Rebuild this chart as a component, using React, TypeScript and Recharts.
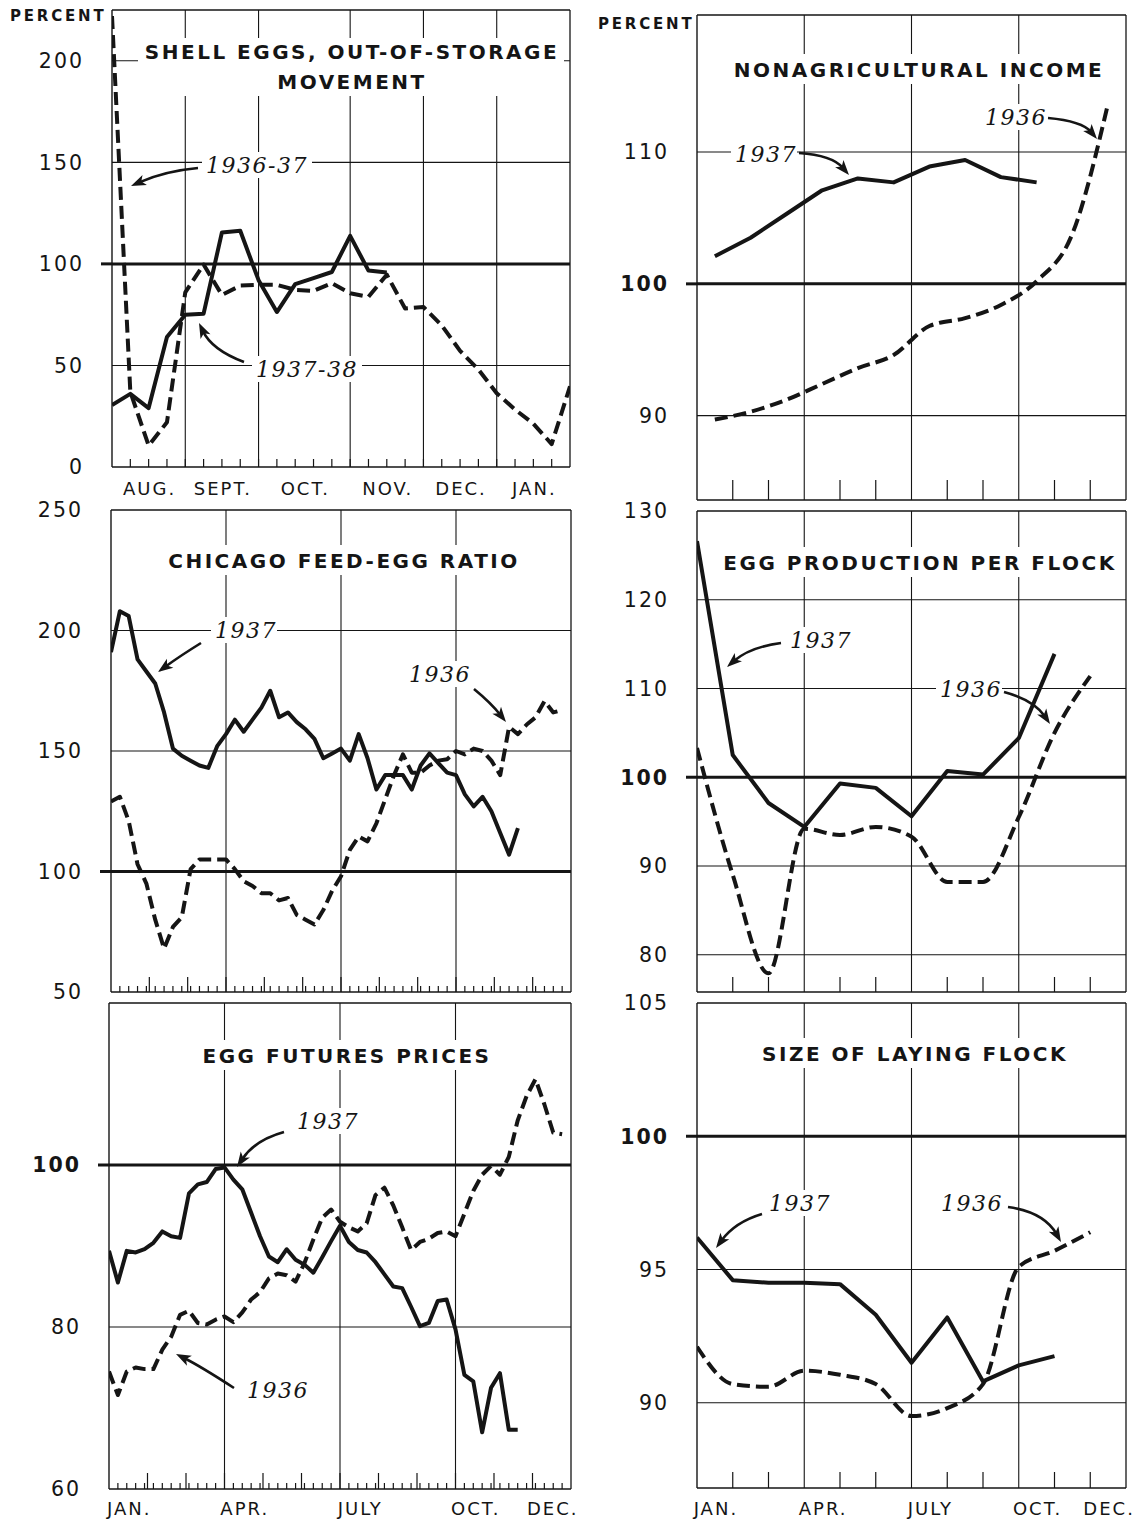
import React from 'react';
import { LineChart, Line, XAxis, YAxis, ReferenceLine } from 'recharts';

const INK = '#151515';
const SANS = '"DejaVu Sans", "Noto Sans", sans-serif';
const SERIF = '"DejaVu Serif", "Liberation Serif", serif';

// ---------- Panel 1: Shell eggs, out-of-storage movement (weekly, Aug - Jan) ----------
const storageMonthLabels = ['AUG.', 'SEPT.', 'OCT.', 'NOV.', 'DEC.', 'JAN.'];
const storageMonthCenters = [2, 6, 10.5, 15, 19, 23];
const storageMonthStarts = [4, 8, 13, 17, 21];
const storageTicks = [0, 50, 100, 150, 200];
const storage1936_37 = [222, 37, 10.5, 22, 86, 99.7, 84.7, 89.3, 89.7, 89.7, 87.2, 86.7, 90.5, 85.5, 83.8, 94.7, 78, 78.8, 69.7, 57.2, 48, 36.3, 28.3, 21.3, 11.3, 39.7];
const storage1937_38 = [30.5, 36, 29, 64, 75, 75.5, 115.5, 116.3, 92, 76.3, 90, 93, 96, 113.8, 96.7, 95.8];

// ---------- Panel 2: Nonagricultural income (monthly, mid-month) ----------
const incomeTicks = [90, 100, 110];
const income1937 = [102.1, 103.5, 105.3, 107.1, 108.0, 107.7, 108.9, 109.4, 108.1, 107.7];
const income1936 = [89.7, 90.3, 91.2, 92.4, 93.6, 94.6, 96.8, 97.4, 98.4, 100.2, 103.8, 113.7];

// ---------- Panel 3: Chicago feed-egg ratio (weekly) ----------
const ratioTicks = [50, 100, 150, 200, 250];
const ratio1937 = [191, 208, 206, 188, 183, 178, 166, 151, 148, 146, 144, 143, 152, 157, 163, 158, 163, 168, 175, 164, 166, 162, 159, 155, 147, 149, 151, 146, 157, 147, 134, 140, 140, 140, 134, 144, 149, 145, 141, 140, 132, 127, 131, 125, 116, 107, 118];
const ratio1936 = [129, 131, 121, 103, 95, 80, 68, 77, 81, 101, 105, 105, 105, 105, 101, 96, 94, 91, 91, 88, 89, 82, 80, 78, 84, 92, 98, 109, 114.5, 112.5, 120, 130, 140, 148.6, 141, 141, 144, 146, 146.6, 150, 148.6, 151, 150, 146, 140, 160, 157, 161, 164, 170.7, 166, 167];

// ---------- Panel 4: Egg production per flock (monthly) ----------
const productionTicks = [80, 90, 100, 110, 120, 130];
const production1937 = [126.6, 102.5, 97.1, 94.4, 99.3, 98.8, 95.6, 100.7, 100.3, 104.4, 113.9];
const production1936 = [103.3, 89, 77.9, 94.2, 93.5, 94.4, 93.3, 88.2, 88.2, 95.5, 105, 111.4];

// ---------- Panel 5: Egg futures prices (weekly) ----------
const futuresTicks = [60, 80, 100];
const futures1937 = [89.4, 85.5, 89.4, 89.2, 89.6, 90.4, 91.8, 91.2, 91, 96.5, 97.6, 97.9, 99.5, 99.7, 98.2, 97, 94.1, 91.2, 88.7, 88, 89.6, 88.3, 87.7, 86.7, 88.6, 90.6, 92.5, 90.5, 89.5, 89.2, 88, 86.5, 85, 84.8, 82.5, 80.1, 80.5, 83.2, 83.4, 79.7, 74.1, 73.3, 67, 72.5, 74.3, 67.3, 67.3];
const futures1936 = [74.5, 71.6, 74.5, 75, 74.8, 74.8, 77.2, 78.8, 81.5, 82, 80.5, 80.3, 80.9, 81.3, 80.6, 81.8, 83.4, 84.3, 86, 86.6, 86.4, 85.6, 87.9, 90.8, 93.5, 94.5, 93, 92.3, 91.8, 92.8, 96.3, 97.2, 95, 92.3, 89.5, 90.5, 90.9, 91.6, 91.8, 91.2, 94, 96.8, 98.8, 99.9, 98.8, 101, 105.5, 108.5, 110.6, 107.5, 104, 103.8];

// ---------- Panel 6: Size of laying flock (monthly) ----------
const flockTicks = [90, 95, 100, 105];
const flock1937 = [96.2, 94.6, 94.5, 94.5, 94.45, 93.3, 91.5, 93.2, 90.8, 91.4, 91.75];
const flock1936 = [92.1, 90.7, 90.6, 91.2, 91.05, 90.7, 89.5, 89.8, 90.7, 95.1, 95.7, 96.4];

// Year axis labels
const yearLabels = ['JAN.', 'APR.', 'JULY', 'OCT.', 'DEC.'];
const yearLabelMonths = [0, 3, 6, 9, 11];
const quarterStarts = [3, 6, 9];

type Series = { values: number[]; offset: number; dashed: boolean; curve?: 'linear' | 'monotone' };
type TickInfo = { len: number; label?: string };
type PanelCfg = {
  left: number; top: number; width: number; height: number;
  xMax: number; yDomain: [number, number]; yTicks: number[]; boldHundred: boolean;
  grid: number[];
  tickMarks: { at: number[]; len: number }[];
  labels: { at: number; text: string }[];
  labelDy: number;
  series: Series[];
};

const key = (v: number) => v.toFixed(3);

function Panel({ cfg }: { cfg: PanelCfg }) {
  const YW = 120, TM = 30, XH = 50, RM = 12;
  const w = cfg.width + YW + RM;
  const h = cfg.height + TM + XH;
  const map = new Map<string, TickInfo>();
  cfg.tickMarks.forEach((g) => g.at.forEach((v) => {
    const k = key(v);
    const cur = map.get(k) || { len: 0 };
    map.set(k, { ...cur, len: Math.max(cur.len, g.len) });
  }));
  cfg.labels.forEach((l) => {
    const k = key(l.at);
    const cur = map.get(k) || { len: 0 };
    map.set(k, { ...cur, label: l.text });
  });
  const ticks = Array.from(map.keys()).map(Number).sort((a, b) => a - b);

  const xTick = (props: any) => {
    const { x, y, payload } = props;
    const info = map.get(key(Number(payload.value)));
    if (!info) return <g />;
    return (
      <g>
        {info.len > 0 && <line x1={x} x2={x} y1={y} y2={y - info.len} stroke={INK} strokeWidth={1.2} />}
        {info.label && (
          <text x={x + 1} y={y + cfg.labelDy} textAnchor="middle" fontFamily={SANS} fontSize={18} letterSpacing={2} fill={INK}>
            {info.label}
          </text>
        )}
      </g>
    );
  };
  const yTick = (props: any) => {
    const { x, y, payload } = props;
    const v = Number(payload.value);
    const hundred = v === 100;
    return (
      <g>
        {hundred && <line x1={x - 11} x2={x} y1={y} y2={y} stroke={INK} strokeWidth={3} />}
        <text x={x - 28} y={y} dy="0.36em" textAnchor="end" fontFamily={SANS} fontSize={20.5} letterSpacing={2}
          fontWeight={hundred && cfg.boldHundred ? 700 : 400} fill={INK}>
          {v}
        </text>
      </g>
    );
  };
  const [y0, y1] = cfg.yDomain;
  return (
    <div style={{ position: 'absolute', left: cfg.left - YW, top: cfg.top - TM, width: w, height: h }}>
      <LineChart width={w} height={h} margin={{ top: TM, right: RM, bottom: 0, left: 0 }}>
        <XAxis type="number" dataKey="x" domain={[0, cfg.xMax]} allowDataOverflow ticks={ticks} interval={0}
          tickSize={0} tickMargin={0} tickLine={false} height={XH}
          axisLine={{ stroke: INK, strokeWidth: 1.5 }} tick={xTick} />
        <YAxis type="number" domain={[y0, y1]} allowDataOverflow ticks={cfg.yTicks} interval={0} width={YW}
          tickSize={0} tickMargin={0} tickLine={false} axisLine={{ stroke: INK, strokeWidth: 1.4 }} tick={yTick} />
        {cfg.yTicks.filter((v) => v > y0 && v < y1 && v !== 100).map((v) => (
          <ReferenceLine key={'h' + v} y={v} stroke={INK} strokeWidth={1.1} />
        ))}
        {cfg.grid.map((v) => (
          <ReferenceLine key={'v' + v} x={v} stroke={INK} strokeWidth={1.1} />
        ))}
        <ReferenceLine y={y1} stroke={INK} strokeWidth={1.3} />
        <ReferenceLine x={cfg.xMax} stroke={INK} strokeWidth={1.3} />
        <ReferenceLine y={100} stroke={INK} strokeWidth={3} />
        {cfg.series.map((s, i) => (
          <Line key={i} data={s.values.map((v, j) => ({ x: j + s.offset, y: v }))} dataKey="y"
            type={s.curve || 'linear'} stroke={INK} strokeWidth={4}
            strokeDasharray={s.dashed ? '13 6' : undefined} strokeLinejoin="round"
            dot={false} activeDot={false} isAnimationActive={false} />
        ))}
      </LineChart>
    </div>
  );
}

const range = (a: number, b: number) => Array.from({ length: b - a + 1 }, (_, i) => a + i);
const monthInWeeks = (m: number) => (m * 52) / 12;

const panels: PanelCfg[] = [
  {
    left: 112, top: 10, width: 458, height: 457, xMax: 25, yDomain: [0, 225], yTicks: storageTicks, boldHundred: false,
    grid: storageMonthStarts,
    tickMarks: [{ at: range(1, 24), len: 8 }],
    labels: storageMonthLabels.map((t, i) => ({ at: storageMonthCenters[i], text: t })),
    labelDy: 28,
    series: [
      { values: storage1936_37, offset: 0, dashed: true },
      { values: storage1937_38, offset: 0, dashed: false },
    ],
  },
  {
    left: 697, top: 15, width: 429, height: 485, xMax: 12, yDomain: [83.6, 120.4], yTicks: incomeTicks, boldHundred: true,
    grid: quarterStarts,
    tickMarks: [{ at: [1, 2, 4, 5, 7, 8, 10, 11], len: 20 }],
    labels: [],
    labelDy: 26,
    series: [
      { values: income1936, offset: 0.5, dashed: true, curve: 'monotone' },
      { values: income1937, offset: 0.5, dashed: false },
    ],
  },
  {
    left: 111, top: 510, width: 460, height: 482, xMax: 52, yDomain: [50, 250], yTicks: ratioTicks, boldHundred: false,
    grid: [13, 26, 39],
    tickMarks: [{ at: range(1, 51), len: 6 }, { at: range(1, 11).map(monthInWeeks), len: 15 }],
    labels: [],
    labelDy: 26,
    series: [
      { values: ratio1936, offset: 0, dashed: true },
      { values: ratio1937, offset: 0, dashed: false },
    ],
  },
  {
    left: 697, top: 511, width: 429, height: 481, xMax: 12, yDomain: [75.8, 130], yTicks: productionTicks, boldHundred: true,
    grid: quarterStarts,
    tickMarks: [{ at: [1, 2, 4, 5, 7, 8, 10, 11], len: 15 }],
    labels: [],
    labelDy: 26,
    series: [
      { values: production1936, offset: 0, dashed: true, curve: 'monotone' },
      { values: production1937, offset: 0, dashed: false },
    ],
  },
  {
    left: 109, top: 1003, width: 462, height: 486, xMax: 52, yDomain: [60, 120], yTicks: futuresTicks, boldHundred: true,
    grid: [13, 26, 39],
    tickMarks: [{ at: range(1, 51), len: 6 }, { at: range(1, 11).map(monthInWeeks), len: 16 }],
    labels: yearLabels.map((t, i) => ({ at: monthInWeeks(yearLabelMonths[i] + 0.5), text: t })),
    labelDy: 26,
    series: [
      { values: futures1936, offset: 0, dashed: true },
      { values: futures1937, offset: 0, dashed: false },
    ],
  },
  {
    left: 697, top: 1003, width: 429, height: 485, xMax: 12, yDomain: [86.8, 105], yTicks: flockTicks, boldHundred: true,
    grid: quarterStarts,
    tickMarks: [{ at: [1, 2, 4, 5, 7, 8, 10, 11], len: 16 }],
    labels: yearLabels.map((t, i) => ({ at: yearLabelMonths[i] + 0.5, text: t })),
    labelDy: 27,
    series: [
      { values: flock1936, offset: 0, dashed: true, curve: 'monotone' },
      { values: flock1937, offset: 0, dashed: false },
    ],
  },
];

// ---------- Titles and annotations (page overlay) ----------
const titles = [
  { lines: ['SHELL EGGS, OUT-OF-STORAGE', 'MOVEMENT'], cx: 352, ys: [59, 89], box: [138, 38, 426, 58] },
  { lines: ['NONAGRICULTURAL INCOME'], cx: 919, ys: [77], box: [724, 54, 390, 30] },
  { lines: ['CHICAGO FEED-EGG RATIO'], cx: 344, ys: [568], box: [160, 545, 368, 30] },
  { lines: ['EGG PRODUCTION PER FLOCK'], cx: 920, ys: [570], box: [716, 547, 406, 30] },
  { lines: ['EGG FUTURES PRICES'], cx: 347, ys: [1063], box: [194, 1040, 306, 30] },
  { lines: ['SIZE OF LAYING FLOCK'], cx: 915, ys: [1061], box: [754, 1038, 322, 30] },
];

const notes = [
  { text: '1936-37', x: 206, y: 173, w: 106, from: [198, 168], ctrl: [165, 171], to: [131, 186] },
  { text: '1937-38', x: 256, y: 377, w: 106, from: [244, 362], ctrl: [212, 350], to: [199, 323] },
  { text: '1937', x: 735, y: 162, w: 62, from: [799, 153], ctrl: [832, 155], to: [849, 175] },
  { text: '1936', x: 985, y: 125, w: 62, from: [1048, 118], ctrl: [1082, 121], to: [1097, 139] },
  { text: '1937', x: 215, y: 638, w: 62, from: [201, 643], ctrl: [180, 656], to: [158, 672] },
  { text: '1936', x: 409, y: 682, w: 62, from: [474, 689], ctrl: [491, 703], to: [506, 722] },
  { text: '1937', x: 790, y: 648, w: 62, from: [781, 643], ctrl: [750, 647], to: [727, 667] },
  { text: '1936', x: 940, y: 697, w: 62, from: [1004, 692], ctrl: [1034, 700], to: [1050, 724] },
  { text: '1937', x: 297, y: 1129, w: 62, from: [284, 1132], ctrl: [255, 1140], to: [237, 1167] },
  { text: '1936', x: 247, y: 1398, w: 62, from: [234, 1388], ctrl: [200, 1366], to: [176, 1354] },
  { text: '1937', x: 769, y: 1211, w: 62, from: [762, 1214], ctrl: [735, 1222], to: [716, 1248] },
  { text: '1936', x: 941, y: 1211, w: 62, from: [1008, 1207], ctrl: [1044, 1212], to: [1061, 1242] },
];

function Arrow({ from, ctrl, to }: { from: number[]; ctrl: number[]; to: number[] }) {
  const ang = Math.atan2(to[1] - ctrl[1], to[0] - ctrl[0]);
  const L = 15, W = 5.5;
  const c = Math.cos(ang), s = Math.sin(ang);
  const bx = to[0] - L * c, by = to[1] - L * s;
  const px = -s * W, py = c * W;
  const nx = to[0] - 0.75 * L * c, ny = to[1] - 0.75 * L * s;
  const pts = `${to[0]},${to[1]} ${bx + px},${by + py} ${nx},${ny} ${bx - px},${by - py}`;
  const ex = to[0] - 9 * c, ey = to[1] - 9 * s;
  return (
    <g>
      <path d={`M${from[0]},${from[1]} Q${ctrl[0]},${ctrl[1]} ${ex},${ey}`} fill="none" stroke={INK} strokeWidth={2.6} />
      <polygon points={pts} fill={INK} />
    </g>
  );
}

function Overlay() {
  return (
    <svg width={1142} height={1525} style={{ position: 'absolute', left: 0, top: 0, pointerEvents: 'none' }}>
      <text x={10} y={21} fontFamily={SANS} fontWeight={700} fontSize={15} letterSpacing={2.8} fill={INK}>PERCENT</text>
      <text x={598} y={29} fontFamily={SANS} fontWeight={700} fontSize={15} letterSpacing={2.8} fill={INK}>PERCENT</text>
      {titles.map((t, i) => (
        <g key={i}>
          <rect x={t.box[0]} y={t.box[1]} width={t.box[2]} height={t.box[3]} fill="#fff" />
          {t.lines.map((ln, j) => (
            <text key={j} x={t.cx} y={t.ys[j]} textAnchor="middle" fontFamily={SANS} fontWeight={700} fontSize={20}
              letterSpacing={2.5} fill={INK}>{ln}</text>
          ))}
        </g>
      ))}
      {notes.map((n, i) => (
        <g key={i}>
          <rect x={n.x - 4} y={n.y - 21} width={n.w + 4} height={26} fill="#fff" />
          <text x={n.x} y={n.y} fontFamily={SERIF} fontStyle="italic" fontSize={22} letterSpacing={1.5} fill={INK}>{n.text}</text>
          <Arrow from={n.from} ctrl={n.ctrl} to={n.to} />
        </g>
      ))}
    </svg>
  );
}

export default function App() {
  return (
    <div style={{ position: 'relative', width: 1142, height: 1525, background: '#fff', overflow: 'hidden' }}>
      <style>{'body{margin:0;background:#fff}'}</style>
      {panels.map((p, i) => <Panel key={i} cfg={p} />)}
      <Overlay />
    </div>
  );
}
